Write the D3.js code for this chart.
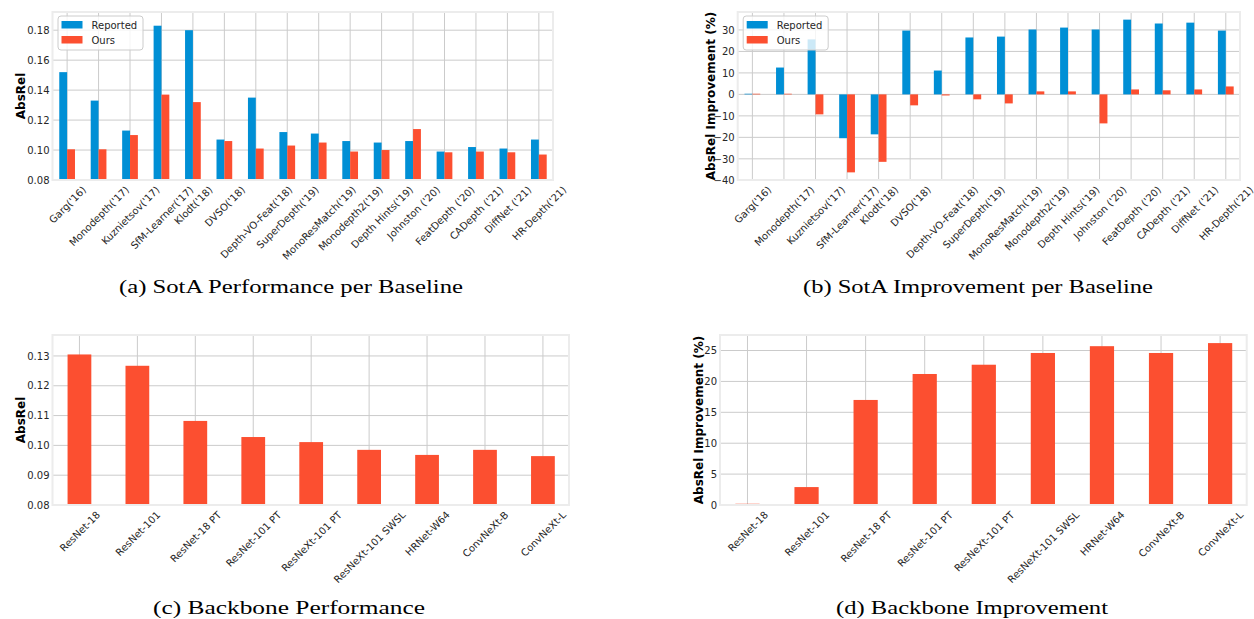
<!DOCTYPE html>
<html>
<head>
<meta charset="utf-8">
<script src="https://cdn.jsdelivr.net/npm/d3@7"></script>
<style>
  body { margin: 0; background: #ffffff; }
  svg { display: block; }
</style>
</head>
<body>
<svg id="fig" width="1254" height="619"></svg>
<script>
// ---- data ----
const baselines = ["Garg('16)", "Monodepth('17)", "Kuznietsov('17)", "SfM-Learner('17)", "Klodt('18)",
  "DVSO('18)", "Depth-VO-Feat('18)", "SuperDepth('19)", "MonoResMatch('19)", "Monodepth2('19)",
  "Depth Hints('19)", "Johnston ('20)", "FeatDepth ('20)", "CADepth ('21)", "DiffNet ('21)", "HR-Depth('21)"];
const reportedAbsRel = [0.152, 0.133, 0.113, 0.183, 0.180, 0.107, 0.135, 0.112, 0.111, 0.106,
  0.105, 0.106, 0.099, 0.102, 0.101, 0.107];
const oursAbsRel = [0.1005, 0.1005, 0.110, 0.137, 0.132, 0.106, 0.101, 0.103, 0.105, 0.099,
  0.100, 0.114, 0.0985, 0.099, 0.0985, 0.097];
const reportedImprovement = [0.3, 12.5, 25.6, -20.4, -18.6, 29.7, 11.1, 26.5, 26.9, 30.2,
  31.1, 30.2, 34.8, 33.0, 33.4, 29.7];
const oursImprovement = [0.3, 0.3, -9.3, -36.3, -31.4, -5.1, -0.5, -2.3, -4.2, 1.4,
  1.4, -13.5, 2.3, 1.9, 2.3, 3.7];

const backbones = ["ResNet-18", "ResNet-101", "ResNet-18 PT", "ResNet-101 PT", "ResNeXt-101 PT",
  "ResNeXt-101 SWSL", "HRNet-W64", "ConvNeXt-B", "ConvNeXt-L"];
const backboneAbsRel = [0.1305, 0.1267, 0.1082, 0.1028, 0.1011, 0.0985, 0.0968, 0.0985, 0.0964];
const backboneImprovement = [0.2, 2.9, 17.0, 21.2, 22.7, 24.6, 25.7, 24.6, 26.2];

const sotaAbsRelTicks = [0.08, 0.10, 0.12, 0.14, 0.16, 0.18];
const sotaImprovementTicks = [-40, -30, -20, -10, 0, 10, 20, 30];
const backboneAbsRelTicks = [0.08, 0.09, 0.10, 0.11, 0.12, 0.13];
const backboneImprovementTicks = [0, 5, 10, 15, 20, 25];

const seriesNames = ["Reported", "Ours"];
const captions = ["(a) SotA Performance per Baseline", "(b) SotA Improvement per Baseline",
  "(c) Backbone Performance", "(d) Backbone Improvement"];

// ---- style ----
const SANS = "'DejaVu Sans', sans-serif";
const SERIF = "'Liberation Serif', 'Times New Roman', serif";
const BLUE = "#008fd5", RED = "#fc4f30";
const GRID = "#cbcbcb", FRAME = "#ececec", INK = "#262626";

const svg = d3.select("#fig");

// y range padded by 5% like an autoscaled bar chart
function padded(values, lowFixed) {
  const lo = Math.min(0, d3.min(values)), hi = Math.max(0, d3.max(values));
  const m = (hi - lo) * 0.05;
  return [lowFixed !== undefined ? lowFixed : lo - m, hi + m];
}

function drawPanel(cfg) {
  const { left, right, top, bottom } = cfg.box;
  const n = cfg.categories.length;
  const g = svg.append("g");
  const x = d3.scaleLinear().domain([-0.465, n - 0.55]).range([left, right]);
  const y = d3.scaleLinear().domain(cfg.yDomain).range([bottom, top]).clamp(true);

  // grid
  g.append("g").selectAll("line").data(cfg.yTicks).join("line")
    .attr("x1", left).attr("x2", right)
    .attr("y1", d => y(d)).attr("y2", d => y(d))
    .attr("stroke", GRID).attr("stroke-width", 1);
  g.append("g").selectAll("line").data(d3.range(n)).join("line")
    .attr("x1", d => x(d)).attr("x2", d => x(d))
    .attr("y1", top).attr("y2", bottom)
    .attr("stroke", GRID).attr("stroke-width", 1);

  // bars
  cfg.series.forEach(s => {
    g.append("g").selectAll("rect").data(s.values).join("rect")
      .attr("x", (d, i) => x(i + s.offset))
      .attr("width", (d, i) => x(i + s.offset + s.width) - x(i + s.offset))
      .attr("y", d => Math.min(y(d), y(0)))
      .attr("height", d => Math.abs(y(d) - y(0)))
      .attr("fill", s.color);
  });

  // frame
  g.append("rect")
    .attr("x", left).attr("y", top)
    .attr("width", right - left).attr("height", bottom - top)
    .attr("fill", "none").attr("stroke", FRAME).attr("stroke-width", 2);

  // y axis
  const yAxis = g.append("g").attr("transform", `translate(${left},0)`)
    .call(d3.axisLeft(y).tickValues(cfg.yTicks).tickFormat(d3.format(cfg.yFormat))
      .tickSize(0).tickPadding(3));
  yAxis.select(".domain").remove();
  yAxis.selectAll("text").attr("font-family", SANS).attr("font-size", 10).attr("fill", INK);

  // x axis with labels rotated 45 degrees, centred under each tick
  const xAxis = g.append("g").attr("transform", `translate(0,${bottom})`)
    .call(d3.axisBottom(x).tickValues(d3.range(n)).tickFormat(i => cfg.categories[i]).tickSize(0));
  xAxis.select(".domain").remove();
  xAxis.selectAll("text")
    .attr("font-family", SANS).attr("font-size", 10).attr("fill", INK)
    .attr("text-anchor", "middle").attr("dy", null).attr("dominant-baseline", "central")
    .each(function () {
      const L = this.getComputedTextLength();
      const half = 0.7071 * (L + 11.6) / 2;
      const cy = 4 + half;
      d3.select(this).attr("x", 0).attr("y", cy).attr("transform", `rotate(-45,0,${cy})`);
    });

  // y label
  g.append("text")
    .attr("transform", `translate(${cfg.yLabelX},${(top + bottom) / 2}) rotate(-90)`)
    .attr("text-anchor", "middle")
    .attr("font-family", SANS).attr("font-size", 12).attr("font-weight", "bold").attr("fill", "#000")
    .text(cfg.yLabel);

  // legend
  if (cfg.legend) {
    const lg = g.append("g").attr("transform", `translate(${left + 5.5},${top + 4})`);
    lg.append("rect").attr("width", 85).attr("height", 34).attr("rx", 3)
      .attr("fill", "#ffffff").attr("fill-opacity", 0.8)
      .attr("stroke", "#cccccc").attr("stroke-width", 1);
    cfg.series.forEach((s, k) => {
      lg.append("rect").attr("x", 3.5).attr("y", 5 + k * 15).attr("width", 21).attr("height", 7.5)
        .attr("fill", s.color);
      lg.append("text").attr("x", 33.5).attr("y", 9 + k * 15)
        .attr("dominant-baseline", "central")
        .attr("font-family", SANS).attr("font-size", 10).attr("fill", INK)
        .text(s.name);
    });
  }

  // caption
  svg.append("text")
    .attr("x", cfg.caption.x).attr("y", cfg.caption.y)
    .attr("text-anchor", "middle")
    .attr("font-family", SERIF).attr("font-size", 19).attr("fill", "#000")
    .attr("textLength", cfg.caption.width).attr("lengthAdjust", "spacingAndGlyphs")
    .text(cfg.caption.text);
}

drawPanel({
  box: { left: 52.5, right: 553, top: 12, bottom: 180 },
  categories: baselines,
  yDomain: padded(reportedAbsRel.concat(oursAbsRel), 0.08),
  yTicks: sotaAbsRelTicks, yFormat: ".2f",
  series: [
    { name: seriesNames[0], values: reportedAbsRel, color: BLUE, offset: -0.25, width: 0.25 },
    { name: seriesNames[1], values: oursAbsRel, color: RED, offset: 0, width: 0.25 }
  ],
  legend: true,
  yLabel: "AbsRel", yLabelX: 25,
  caption: { text: captions[0], x: 291, y: 293, width: 344 }
});

drawPanel({
  box: { left: 737.7, right: 1240, top: 12, bottom: 180 },
  categories: baselines,
  yDomain: padded(reportedImprovement.concat(oursImprovement)),
  yTicks: sotaImprovementTicks, yFormat: "d",
  series: [
    { name: seriesNames[0], values: reportedImprovement, color: BLUE, offset: -0.25, width: 0.25 },
    { name: seriesNames[1], values: oursImprovement, color: RED, offset: 0, width: 0.25 }
  ],
  legend: true,
  yLabel: "AbsRel Improvement (%)", yLabelX: 715,
  caption: { text: captions[1], x: 978, y: 293, width: 350 }
});

drawPanel({
  box: { left: 52.5, right: 569, top: 335, bottom: 505 },
  categories: backbones,
  yDomain: padded(backboneAbsRel, 0.08),
  yTicks: backboneAbsRelTicks, yFormat: ".2f",
  series: [{ name: seriesNames[1], values: backboneAbsRel, color: RED, offset: -0.205, width: 0.41 }],
  legend: false,
  yLabel: "AbsRel", yLabelX: 25,
  caption: { text: captions[2], x: 289, y: 614, width: 272 }
});

drawPanel({
  box: { left: 720, right: 1246.7, top: 335, bottom: 505 },
  categories: backbones,
  yDomain: padded(backboneImprovement, 0),
  yTicks: backboneImprovementTicks, yFormat: "d",
  series: [{ name: seriesNames[1], values: backboneImprovement, color: RED, offset: -0.205, width: 0.41 }],
  legend: false,
  yLabel: "AbsRel Improvement (%)", yLabelX: 703,
  caption: { text: captions[3], x: 972, y: 614, width: 272 }
});
</script>
</body>
</html>
